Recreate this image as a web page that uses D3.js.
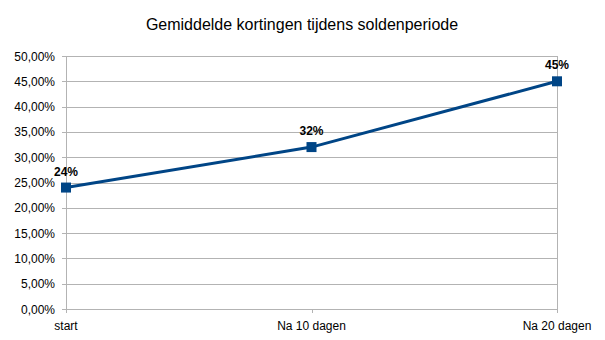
<!DOCTYPE html>
<html>
<head>
<meta charset="utf-8">
<script src="https://cdn.jsdelivr.net/npm/d3@7"></script>
<style>
  html, body { margin: 0; padding: 0; background: #fff; }
  text { font-family: "Liberation Sans", Arial, sans-serif; fill: #000; }
</style>
</head>
<body>
<svg id="chart" width="605" height="340"></svg>
<script>
const categories = ["start", "Na 10 dagen", "Na 20 dagen"];
const discounts = [0.24, 0.32, 0.45];
const yTicks = [0, 0.05, 0.10, 0.15, 0.20, 0.25, 0.30, 0.35, 0.40, 0.45, 0.50];
const title = "Gemiddelde kortingen tijdens soldenperiode";

const svg = d3.select("#chart");
const margin = { left: 66, right: 48, top: 56, bottom: 31 };
const W = 605, H = 340;

const x = d3.scalePoint().domain(categories).range([margin.left, W - margin.right]);
const y = d3.scaleLinear().domain([0, 0.5]).range([H - margin.bottom, margin.top]);

const gridColor = "#b3b3b3";
const fmtAxis = v => d3.format(".2f")(v * 100).replace(".", ",") + "%";

// horizontal gridlines
svg.append("g").selectAll("line").data(yTicks).join("line")
  .attr("x1", margin.left - 4).attr("x2", W - margin.right)
  .attr("y1", d => Math.round(y(d)) + 0.5).attr("y2", d => Math.round(y(d)) + 0.5)
  .attr("stroke", gridColor).attr("stroke-width", 1);

// vertical axis and right border
svg.append("line")
  .attr("x1", margin.left + 0.5).attr("x2", margin.left + 0.5)
  .attr("y1", y(0.5)).attr("y2", y(0))
  .attr("stroke", gridColor);
svg.append("line")
  .attr("x1", W - margin.right + 0.5).attr("x2", W - margin.right + 0.5)
  .attr("y1", y(0.5)).attr("y2", y(0) + 4)
  .attr("stroke", gridColor);

// x-axis ticks
svg.append("g").selectAll("line").data(categories).join("line")
  .attr("x1", d => Math.round(x(d)) + 0.5).attr("x2", d => Math.round(x(d)) + 0.5)
  .attr("y1", y(0)).attr("y2", y(0) + 4)
  .attr("stroke", gridColor);

// y tick labels
svg.append("g").selectAll("text").data(yTicks).join("text")
  .attr("x", margin.left - 11).attr("y", d => y(d) + 4.5)
  .attr("text-anchor", "end").attr("font-size", 12)
  .text(fmtAxis);

// category labels
svg.append("g").selectAll("text").data(categories).join("text")
  .attr("x", d => x(d)).attr("y", y(0) + 21)
  .attr("text-anchor", "middle").attr("font-size", 12)
  .text(d => d);

// title
svg.append("text")
  .attr("x", 302).attr("y", 30)
  .attr("text-anchor", "middle").attr("font-size", 16)
  .text(title);

const data = categories.map((c, i) => ({ c, v: discounts[i] }));

// series line
svg.append("path").datum(data)
  .attr("fill", "none").attr("stroke", "#004586").attr("stroke-width", 3)
  .attr("d", d3.line().x(d => x(d.c)).y(d => y(d.v)));

// square markers
svg.append("g").selectAll("rect").data(data).join("rect")
  .attr("x", d => x(d.c) - 5).attr("y", d => y(d.v) - 5)
  .attr("width", 10).attr("height", 10)
  .attr("fill", "#004586");

// value labels
svg.append("g").selectAll("text").data(data).join("text")
  .attr("x", d => x(d.c)).attr("y", d => y(d.v) - 12)
  .attr("text-anchor", "middle").attr("font-size", 12).attr("font-weight", "bold")
  .text(d => Math.round(d.v * 100) + "%");
</script>
</body>
</html>
